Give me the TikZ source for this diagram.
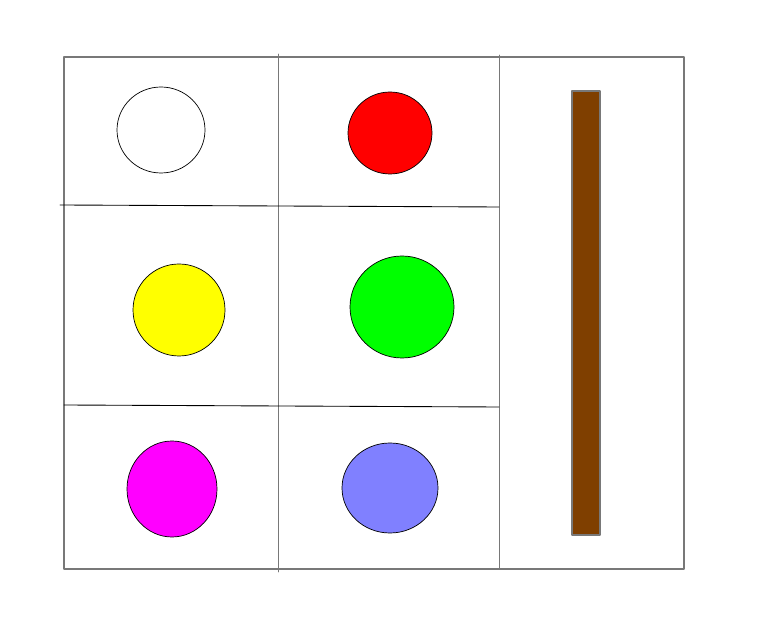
\documentclass[tikz,border=0pt]{standalone}
\usepackage{tikz}

\definecolor{frame}{RGB}{120,120,120}
\definecolor{barbrown}{RGB}{127,63,0}
\definecolor{lilac}{RGB}{128,128,255}
\definecolor{pureyellow}{RGB}{255,255,0}
\definecolor{puremagenta}{RGB}{255,0,255}
\definecolor{puregreen}{RGB}{0,255,0}
\definecolor{purered}{RGB}{255,0,0}

\begin{document}
\begin{tikzpicture}[x=0.02cm, y=-0.02cm, line cap=round, line join=round]
		\useasboundingbox (0,0) rectangle (764,641);
		% outer frame
		\draw [frame, line width=0.9pt] (64,57) rectangle (684,569);
		% grid
		\draw [frame, line width=0.5pt] (278,54) -- (278,572);
		\draw [frame, line width=0.5pt] (499,55) -- (499,569);
		\draw [line width=0.5pt] (60,205) -- (499,207);
		\draw [line width=0.5pt] (64,405) -- (499,407);
		% circles
		\draw [fill=white, line width=0.4pt] (161,130) ellipse (44 and 43);
		\draw [fill=purered, line width=0.4pt] (390,133) ellipse (42 and 41);
		\draw [fill=pureyellow, line width=0.4pt] (179,310) ellipse (46 and 46);
		\draw [fill=puregreen, line width=0.4pt] (402,307) ellipse (52 and 51);
		\draw [fill=puremagenta, line width=0.4pt] (172,489) ellipse (45 and 48);
		\draw [fill=lilac, line width=0.4pt] (390,488) ellipse (48 and 45);
		% bar
		\draw [frame, fill=barbrown, line width=0.9pt] (572,91) rectangle (600,535);
	\end{tikzpicture}
\end{document}
